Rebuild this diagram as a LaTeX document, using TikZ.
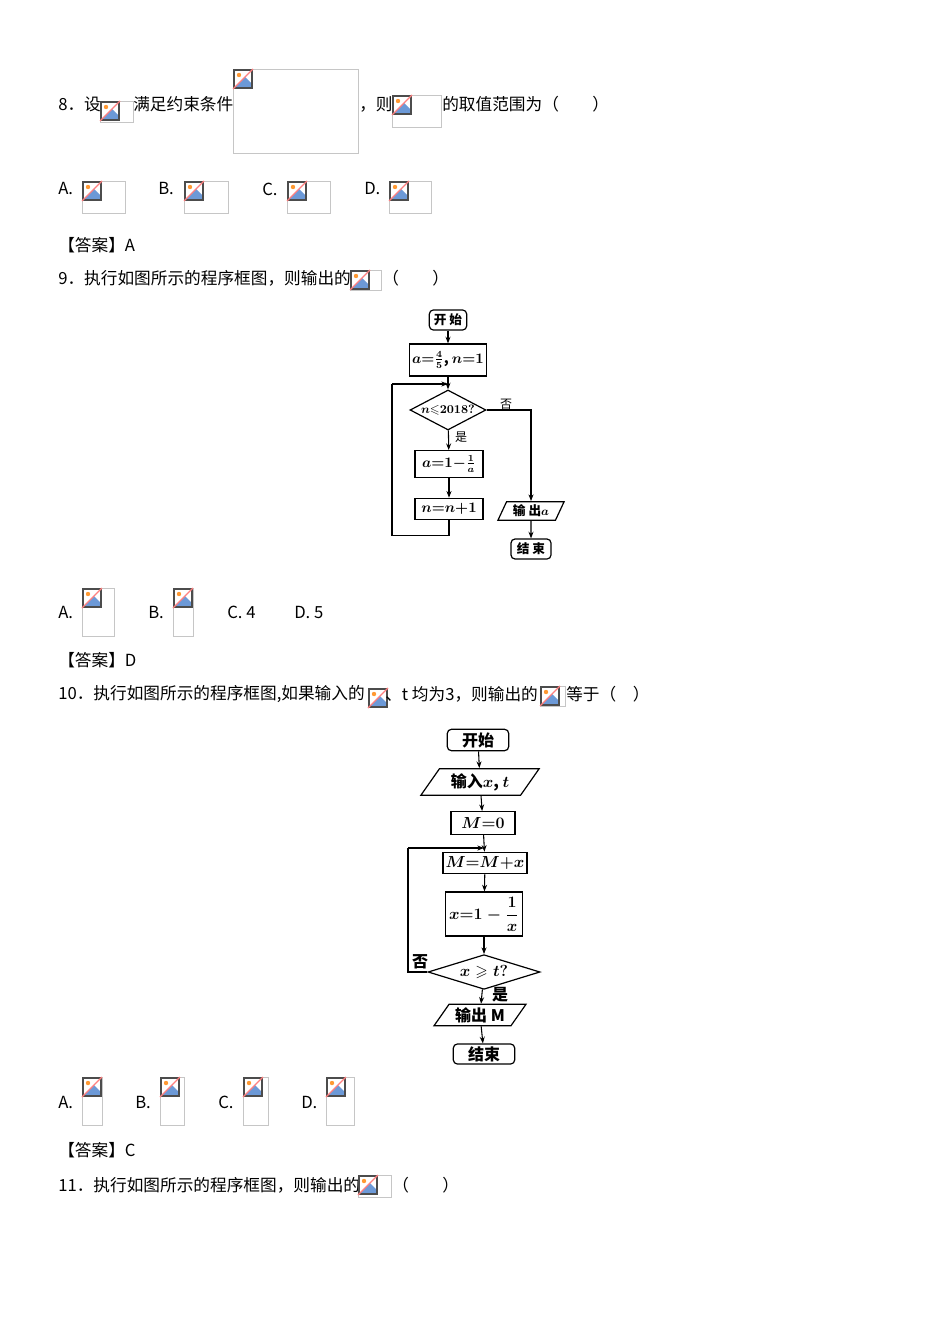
\documentclass[tikz,border=0pt]{standalone}
\usepackage{amsmath,amssymb}
\usepackage{fontspec}
\setmainfont{Noto Sans CJK SC}
\usetikzlibrary{shapes.geometric,arrows.meta}
\newcommand\bimg[4]{%
  \draw[gray!45] (#1,#2) rectangle ++(#3,#4);
  \begin{scope}[shift={(#1,#2)}]
    \fill[white] (1,1) rectangle (19,19);
    \fill[cyan!50!blue!60] (2,18) -- (12,8) -- (18,14) -- (18,18) -- cycle;
    \draw[black!70,line width=0.8pt] (1,1) rectangle (19,19);
    \fill[orange!80] (6,6) circle (2.2);
    \draw[red!50,line width=1pt] (0,20) -- (20,0);
  \end{scope}}
\newcommand\mfrac[2]{\genfrac{}{}{}{}{\scriptstyle #1}{\scriptstyle #2}}
\tikzset{
  txt/.style={anchor=west,inner sep=0pt,font=\fontsize{12.5}{14}\selectfont},
  fc/.style={font=\bfseries\boldmath\fontsize{10.5}{12}\selectfont,inner sep=1pt},
  rbox/.style={fc,draw,line width=0.9pt,rounded corners=3pt},
  pbox/.style={fc,draw,line width=0.9pt},
  para/.style={fc,draw,line width=0.9pt,trapezium,trapezium left angle=65,trapezium right angle=115},
  dia/.style={fc,draw,line width=0.9pt,diamond,aspect=2.2,inner sep=0pt},
  arr/.style={line width=0.8pt,-{Stealth[length=5pt]}},
  ln/.style={line width=0.8pt}
}
\begin{document}
\begin{tikzpicture}[x=0.75pt,y=-0.75pt]
\fill[white] (0,0) rectangle (950,1344);
% Q8
\node[txt] (q8a) at (58,104) {8．设};
\bimg{100}{101}{33}{21}
\node[txt] (q8b) at (133,104) {满足约束条件};
\bimg{233}{69}{125}{84}
\node[txt] (q8c) at (359,104) {，则};
\bimg{392}{95}{49}{32}
\node[txt] (q8d) at (442,104) {的取值范围为（　　）};
\node[txt] (o8a) at (58,189) {A.}; \bimg{82}{181}{43}{32}
\node[txt] (o8b) at (158,189) {B.}; \bimg{184}{181}{44}{32}
\node[txt] (o8c) at (262,189) {C.}; \bimg{287}{181}{43}{32}
\node[txt] (o8d) at (364,189) {D.}; \bimg{389}{181}{42}{32}
\node[txt] (a8) at (58,245) {【答案】A};
% Q9
\node[txt] (q9) at (58,278) {9．执行如图所示的程序框图，则输出的};
\bimg{350}{270}{31}{20}
\node[txt] (q9b) at (382,278) {（　　）};
% Flowchart 1
\node[rbox,font=\bfseries\fontsize{9.5}{11}\selectfont,minimum width=28pt,minimum height=15pt] (s1) at (448,320) {开 始};
\node[pbox,minimum width=58pt,minimum height=24pt] (i1) at (448,360) {$a{=}\mfrac{4}{5}$, $n{=}1$};
\coordinate (j1) at (448,384);
\node[dia,font=\bfseries\boldmath\fontsize{9.5}{11}\selectfont,minimum width=56pt,minimum height=30pt] (d1) at (448,410) {$n{\leqslant}2018?$};
\node[pbox,minimum width=51pt,minimum height=20pt] (b1) at (449,464) {$a{=}1{-}\mfrac{1}{a}$};
\node[pbox,minimum width=51pt,minimum height=16pt] (b2) at (449,509) {$n{=}n{+}1$};
\node[para,font=\bfseries\boldmath\fontsize{9.5}{11}\selectfont,minimum width=42pt,minimum height=14pt] (o1) at (531,511) {输 出$a$};
\node[rbox,font=\bfseries\fontsize{9.5}{11}\selectfont,minimum width=30pt,minimum height=15pt] (e1) at (531,549) {结 束};
\node[fc,font=\fontsize{9}{10}\selectfont] (no1) at (506,404) {否};
\node[fc,font=\fontsize{9}{10}\selectfont] (yes1) at (461,437) {是};
\draw[arr] (s1) -- (i1);
\draw[arr] (i1) -- (d1);
\draw[arr] (d1) -- (b1);
\draw[arr] (b1) -- (b2);
\draw[arr] (d1.east) -| (o1.north);
\draw[arr] (o1) -- (e1);
\draw[ln] (b2.south) -- ++(0,15) -| (392,384);
\draw[arr] (392,384) -- (j1);
% options 9
\node[txt] (o9a) at (58,612) {A.}; \bimg{82}{588}{32}{48}
\node[txt] (o9b) at (148,612) {B.}; \bimg{173}{588}{20}{48}
\node[txt] (o9c) at (227,612) {C.\ 4};
\node[txt] (o9d) at (294,612) {D.\ 5};
\node[txt] (a9) at (58,660) {【答案】D};
% Q10
\node[txt] (q10) at (58,694) {10．执行如图所示的程序框图,如果输入的};
\bimg{368}{688}{17}{18}
\node[txt] (q10b) at (385,694) {、t 均为3，则输出的};
\bimg{540}{686}{25}{20}
\node[txt] (q10c) at (566,694) {等于（　）};
% Flowchart 2
\tikzset{fc2/.style={font=\bfseries\boldmath\fontsize{12}{13}\selectfont}}
\node[rbox,fc2,minimum width=46pt,minimum height=16pt] (s2) at (478,740) {开始};
\node[para,fc2,trapezium left angle=55,trapezium right angle=125,minimum width=66pt,minimum height=20pt] (in2) at (480,782) {输入$x$, $t$};
\node[pbox,fc2,minimum width=48pt,minimum height=17pt] (m0) at (483,823) {$M{=}0$};
\coordinate (j2) at (484,848);
\node[pbox,fc2,minimum width=63pt,minimum height=16pt,inner xsep=0pt] (m1) at (485,863) {$M{=}M{+}x$};
\node[pbox,fc2,minimum width=58pt,minimum height=33pt] (x1) at (484,914) {$x{=}1-\dfrac{1}{x}$};
\node[dia,fc2,aspect=3.3,minimum width=84pt,minimum height=26pt] (d2) at (484,972) {$x\geqslant t?$};
\node[para,fc2,trapezium left angle=55,trapezium right angle=125,minimum width=66pt,minimum height=16pt] (o2) at (480,1015) {输出 M};
\node[rbox,fc2,minimum width=46pt,minimum height=15pt] (e2) at (484,1054) {结束};
\node[fc2] (no2) at (420,962) {否};
\node[fc2] (yes2) at (500,995) {是};
\draw[arr] (s2) -- (in2);
\draw[arr] (in2) -- (m0);
\draw[arr] (m0) -- (m1);
\draw[arr] (m1) -- (x1);
\draw[arr] (x1) -- (d2);
\draw[arr] (d2) -- (o2);
\draw[arr] (o2) -- (e2);
\draw[ln] (d2.west) -- (408,972) -- (408,848);
\draw[arr] (408,848) -- (j2);
% options 10
\node[txt] (o10a) at (58,1102) {A.}; \bimg{82}{1077}{20}{48}
\node[txt] (o10b) at (135,1102) {B.}; \bimg{160}{1077}{24}{48}
\node[txt] (o10c) at (218,1102) {C.}; \bimg{243}{1077}{25}{48}
\node[txt] (o10d) at (301,1102) {D.}; \bimg{326}{1077}{28}{48}
\node[txt] (a10) at (58,1150) {【答案】C};
\node[txt] (q11) at (58,1185) {11．执行如图所示的程序框图，则输出的};
\bimg{358}{1175}{33}{22}
\node[txt] (q11b) at (392,1185) {（　　）};
\end{tikzpicture}
\end{document}
